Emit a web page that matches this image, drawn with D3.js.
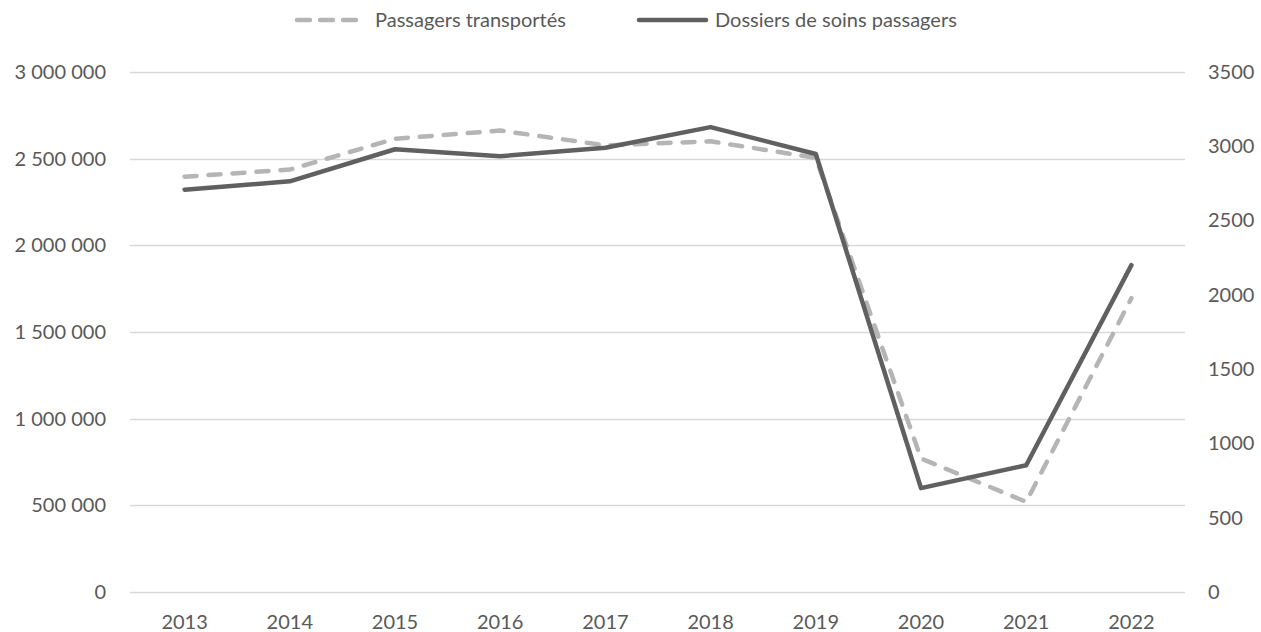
<!DOCTYPE html>
<html>
<head>
<meta charset="utf-8">
<script src="https://cdn.jsdelivr.net/npm/d3@7"></script>
<style>
  html, body { margin: 0; padding: 0; background: #ffffff; }
  svg { display: block; }
  text { font-family: Lato, "Open Sans", sans-serif; fill: #595959; }
</style>
</head>
<body>
<svg id="chart" width="1261" height="632"></svg>
<script>
const years = ["2013","2014","2015","2016","2017","2018","2019","2020","2021","2022"];
const passagers = [2396000, 2437000, 2615000, 2662000, 2577000, 2600000, 2505000, 770000, 520000, 1695000];
const dossiers = [2708, 2764, 2980, 2933, 2990, 3129, 2948, 699, 853, 2200];
const leftTicks = [0, 500000, 1000000, 1500000, 2000000, 2500000, 3000000];
const rightTicks = [0, 500, 1000, 1500, 2000, 2500, 3000, 3500];
const seriesNames = ["Passagers transportés", "Dossiers de soins passagers"];

const svg = d3.select("#chart");
const plot = { left: 132, right: 1184, top: 72, bottom: 592 };

const x = d3.scaleBand().domain(years).range([plot.left, plot.right]).padding(0);
const cx = d => x(d) + x.bandwidth() / 2;
const yL = d3.scaleLinear().domain([0, 3000000]).range([plot.bottom, plot.top]);
const yR = d3.scaleLinear().domain([0, 3500]).range([plot.bottom, plot.top]);

const fr = d3.formatLocale({ decimal: ",", thousands: "\u00a0", grouping: [3], currency: ["", " €"] });
const fmtL = fr.format(",d");

// gridlines
svg.append("g").selectAll("line").data(leftTicks).join("line")
  .attr("x1", plot.left - 2).attr("x2", plot.right + 1)
  .attr("y1", d => Math.round(yL(d)) + 0.5).attr("y2", d => Math.round(yL(d)) + 0.5)
  .attr("stroke", "#d9d9d9").attr("stroke-width", 1.3);

// left axis labels
const gL = svg.append("g").attr("transform", "translate(106,0)")
  .call(d3.axisLeft(yL).tickValues(leftTicks).tickFormat(fmtL).tickSize(0).tickPadding(0));
gL.select(".domain").remove();
gL.selectAll("text").attr("font-size", 20).attr("font-family", "Lato").attr("fill", "#595959");

// right axis labels
const gR = svg.append("g").attr("transform", "translate(1208,0)")
  .call(d3.axisRight(yR).tickValues(rightTicks).tickFormat(d3.format("d")).tickSize(0).tickPadding(0));
gR.select(".domain").remove();
gR.selectAll("text").attr("font-size", 20).attr("font-family", "Lato").attr("fill", "#595959");

// x axis labels
const gX = svg.append("g").attr("transform", `translate(0,${plot.bottom})`)
  .call(d3.axisBottom(x).tickSize(0).tickPadding(0));
gX.select(".domain").remove();
gX.selectAll("text").attr("font-size", 20).attr("font-family", "Lato").attr("fill", "#595959")
  .attr("dy", null).attr("y", 37);

// lines
const dashColor = "#b5b5b5", solidColor = "#606060";
const lineL = d3.line().x((d, i) => cx(years[i])).y(d => yL(d));
const lineR = d3.line().x((d, i) => cx(years[i])).y(d => yR(d));

svg.append("path").datum(passagers).attr("d", lineL)
  .attr("fill", "none").attr("stroke", dashColor).attr("stroke-width", 4.5)
  .attr("stroke-linecap", "round").attr("stroke-linejoin", "round")
  .attr("stroke-dasharray", "12,12");

svg.append("path").datum(dossiers).attr("d", lineR)
  .attr("fill", "none").attr("stroke", solidColor).attr("stroke-width", 4.5)
  .attr("stroke-linecap", "round").attr("stroke-linejoin", "round");

// legend
const lg = svg.append("g");
lg.append("line").attr("x1", 297).attr("x2", 360).attr("y1", 20).attr("y2", 20)
  .attr("stroke", dashColor).attr("stroke-width", 4.5).attr("stroke-linecap", "round")
  .attr("stroke-dasharray", "13,10");
lg.append("text").attr("x", 375).attr("y", 27).attr("font-size", 20).text(seriesNames[0]);
lg.append("line").attr("x1", 639).attr("x2", 706).attr("y1", 20).attr("y2", 20)
  .attr("stroke", solidColor).attr("stroke-width", 4.5).attr("stroke-linecap", "round");
lg.append("text").attr("x", 715).attr("y", 27).attr("font-size", 20).text(seriesNames[1]);
</script>
</body>
</html>
